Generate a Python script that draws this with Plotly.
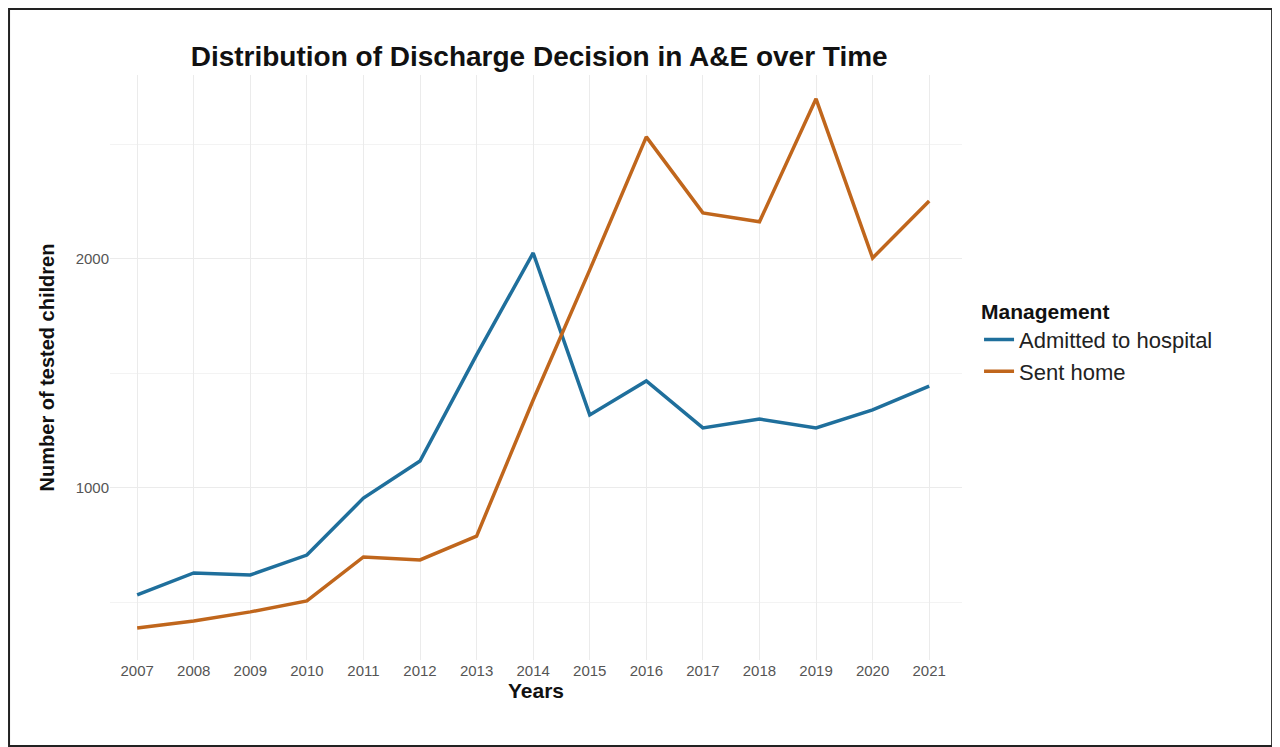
import plotly.graph_objects as go

years = list(range(2007, 2022))
admitted = [533, 629, 620, 707, 956, 1118, 1581, 2026, 1319, 1467, 1262, 1301, 1262, 1341, 1445]
sent_home = [389, 419, 459, 507, 699, 686, 790, 1384, 1952, 2533, 2201, 2162, 2699, 2004, 2253]

fig = go.Figure()
fig.add_trace(go.Scatter(x=years, y=admitted, mode="lines", name="Admitted to hospital",
                         line=dict(color="#1f6f9c", width=3.5)))
fig.add_trace(go.Scatter(x=years, y=sent_home, mode="lines", name="Sent home",
                         line=dict(color="#c0661c", width=3.5)))

fig.update_layout(
    width=1280, height=747,
    paper_bgcolor="white", plot_bgcolor="white",
    margin=dict(l=102, r=326, t=67, b=95),
    font=dict(family="Liberation Sans, Arial", color="#444"),
    title=dict(text="<b>Distribution of Discharge Decision in A&E over Time</b>",
               x=0.415, xanchor="center", y=0.948, font=dict(size=28, color="#111")),
    xaxis=dict(range=[2006.52, 2021.58], tickvals=years, showgrid=True, gridcolor="#ebebeb",
               zeroline=False, tickfont=dict(size=15, color="#555"),
               title=dict(text="<b>Years</b>", font=dict(size=21, color="#111"), standoff=5)),
    yaxis=dict(range=[249, 2803], tickvals=[1000, 2000], showgrid=True, gridcolor="#ebebeb",
               zeroline=False, tickfont=dict(size=15, color="#555"),
               minor=dict(dtick=500, tick0=0, showgrid=True, gridcolor="#f3f3f3"),
               title=dict(text="<b>Number of tested children</b>", font=dict(size=20, color="#111"))),
    legend=dict(x=1.02, y=0.63, xanchor="left", yanchor="top", font=dict(size=22, color="#222"),
                title=dict(text="<b>Management</b>", font=dict(size=21, color="#111"))),
    shapes=[dict(type="rect", xref="paper", yref="paper", x0=-0.1185, x1=1.364, y0=-0.147, y1=1.113,
                 line=dict(color="#222", width=2))],
)

fig.write_html("out.html")
